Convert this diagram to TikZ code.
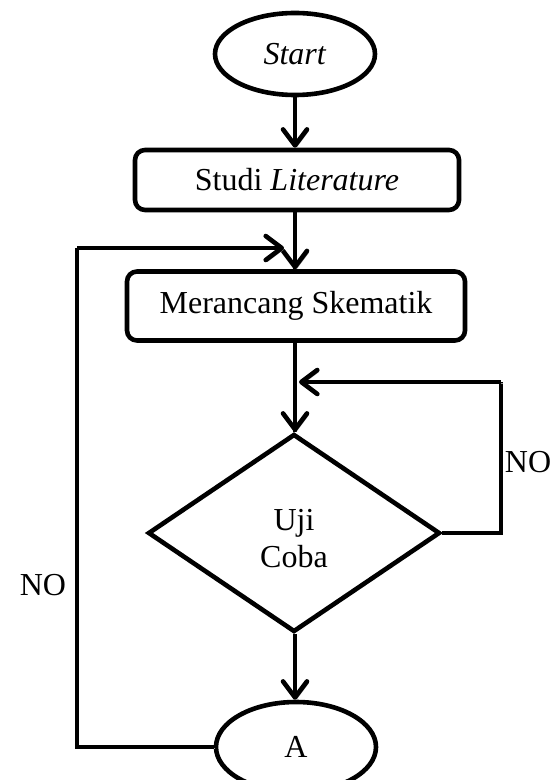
\documentclass[tikz,border=0pt]{standalone}
\usepackage{fontspec}
\setmainfont{Liberation Serif}
\usetikzlibrary{arrows.meta,shapes.geometric}
\begin{document}
\begin{tikzpicture}[x=0.5pt,y=-0.5pt,
  lw/.style={line width=2.3pt},
  term/.style={ellipse, draw, lw, minimum width=80pt, minimum height=41pt, inner sep=0pt},
  proc/.style={rectangle, rounded corners=5pt, draw, lw, inner sep=0pt},
  dec/.style={diamond, draw, lw, inner sep=0pt, align=center, minimum width=146pt, minimum height=99pt},
  shade/.style={preaction={draw=black!40, transform canvas={shift={(0.8pt,-0.8pt)}}}},
  conn/.style={lw, shade, -{Straight Barb[length=8pt,width=12pt,line cap=round,line join=round]}},
  wire/.style={lw, shade},
  lbl/.style={inner sep=0pt},
  font=\fontsize{16}{18.5}\selectfont]
\useasboundingbox (0,0) rectangle (552,780);
\node[term] (start) at (295,54) {\textit{Start}};
\node[proc, minimum width=162pt, minimum height=30pt] (studi) at (297,180) {Studi \textit{Literature}};
\node[proc, minimum width=169pt, minimum height=34.5pt] (meran) at (296,306) {Merancang Skematik};
\node[dec] (uji) at (294,533) {\raisebox{-8.5pt}[0pt][0pt]{\begin{tabular}{@{}c@{}}Uji\\Coba\end{tabular}}};
\node[term, minimum height=45pt] (a) at (296,747) {A};
\coordinate (lft) at (77,248);
\coordinate (lend) at (284,248);
\coordinate (rgt) at (501,382);
\coordinate (rend) at (299,382);
\draw[conn] (start.south) -- (start.south |- studi.north);
\draw[lw] (start.south |- studi.south) -- (start.south |- meran.north);
\draw[conn] (start.south |- meran.north) ++(0,-40) -- ++(0,40);
\draw[lw] (start.south |- meran.south) -- (start.south |- uji.north);
\draw[conn] (start.south |- uji.north) ++(0,-40) -- ++(0,40);
\draw[conn] (start.south |- uji.south) -- (start.south |- a.north);
\draw[wire] (a.west) -- (lft |- a.west) -- (lft);
\draw[conn] (lft) -- (lend);
\draw[wire] (uji.east) -- (rgt |- uji.east) -- (rgt);
\draw[conn] (rgt) -- (rend);
\node[lbl] (no1) at (43,585) {NO};
\node[lbl] (no2) at (528,462) {NO};
\end{tikzpicture}
\end{document}
